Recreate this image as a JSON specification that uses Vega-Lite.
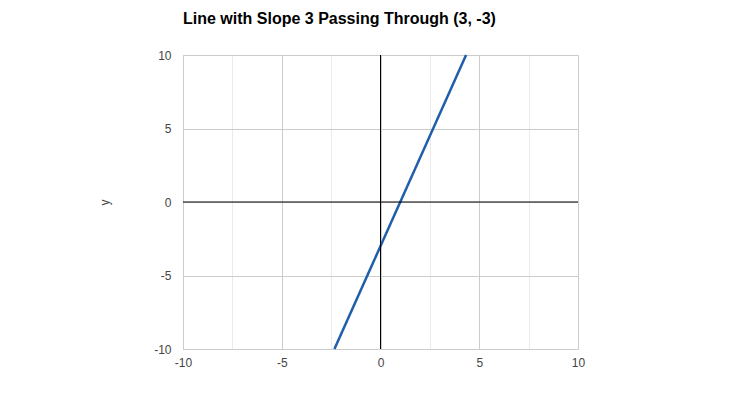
{
  "$schema": "https://vega.github.io/schema/vega-lite/v6.json",
  "width": 395,
  "height": 294,
  "autosize": {"type": "none"},
  "padding": {"left": 183, "top": 55, "right": 166, "bottom": 44},
  "background": "white",
  "title": {
    "text": "Line with Slope 3 Passing Through (3, -3)",
    "anchor": "start",
    "frame": "group",
    "font": "Liberation Sans",
    "fontSize": 16,
    "fontWeight": "bold",
    "color": "#000000",
    "offset": 22
  },
  "config": {
    "view": {"stroke": "#cccccc", "strokeWidth": 1},
    "axis": {
      "labelFont": "Liberation Sans",
      "labelFontSize": 12,
      "labelColor": "#444444",
      "titleFont": "Liberation Sans",
      "titleFontSize": 12,
      "titleFontWeight": "normal",
      "titleColor": "#444444",
      "domain": false,
      "ticks": false,
      "grid": true,
      "gridColor": {"condition": {"test": "datum.value % 5 === 0", "value": "#cccccc"}, "value": "#ebebeb"},
      "gridWidth": 1
    }
  },
  "datasets": {
    "line": [
      {"x": -2.3333, "y": -10},
      {"x": 4.3333, "y": 10}
    ],
    "zero": [{"v": 0}]
  },
  "layer": [
    {
      "data": {"name": "line"},
      "mark": {"type": "line", "color": "#1f5eab", "strokeWidth": 2.5},
      "encoding": {
        "x": {
          "field": "x",
          "type": "quantitative",
          "scale": {"domain": [-10, 10], "nice": false, "zero": false},
          "axis": {
            "title": null,
            "values": [-10, -7.5, -5, -2.5, 0, 2.5, 5, 7.5, 10],
            "labelExpr": "datum.value % 5 === 0 ? '' + datum.value : ''",
            "labelPadding": 8,
            "labelFlush": false
          }
        },
        "y": {
          "field": "y",
          "type": "quantitative",
          "scale": {"domain": [-10, 10], "nice": false, "zero": false},
          "axis": {
            "title": "y",
            "values": [-10, -7.5, -5, -2.5, 0, 2.5, 5, 7.5, 10],
            "labelExpr": "datum.value % 5 === 0 ? '' + datum.value : ''",
            "labelPadding": 12,
            "titlePadding": 42,
            "labelFlush": false
          }
        }
      }
    },
    {
      "data": {"name": "zero"},
      "mark": {"type": "rule", "color": "#000000", "strokeWidth": 1},
      "encoding": {"x": {"field": "v", "type": "quantitative"}}
    },
    {
      "data": {"name": "zero"},
      "mark": {"type": "rule", "color": "#000000", "strokeWidth": 1},
      "encoding": {"y": {"field": "v", "type": "quantitative"}}
    }
  ]
}
